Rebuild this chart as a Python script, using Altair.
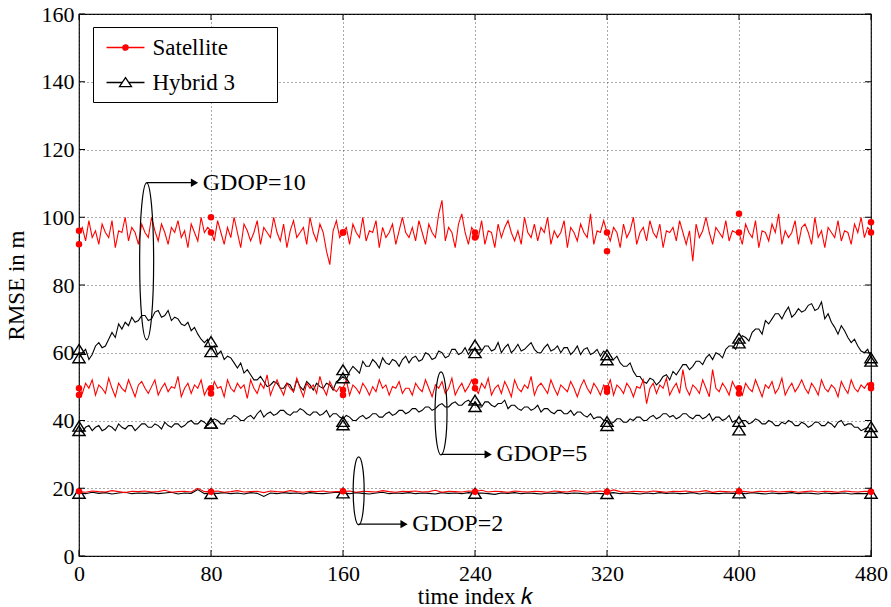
import altair as alt
import pandas as pd

FONT = "Liberation Serif"

MK = [0, 80, 160, 240, 320, 400, 480]
XT = [0, 80, 160, 240, 320, 400, 480]
YT = [0, 20, 40, 60, 80, 100, 120, 140, 160]

# noisy series, one value every 2 time steps (k = 0, 2, ..., 480)
SAT10 = [95.5, 97, 93, 99, 94, 96, 92, 98, 95.5, 94, 99, 91, 96, 95.5, 100, 93, 97, 95.5, 92, 98,
         95.5, 94, 100, 96, 93, 98, 95.5, 92, 97, 95.5, 99, 94, 96, 91, 98, 95.5, 93, 100, 95.5, 97,
         96, 93, 99, 95.5, 92, 97, 94, 100, 95.5, 91, 98, 96, 93, 95.5, 99, 92, 97, 95.5, 94, 100,
         95.5, 93, 98, 91, 96, 99, 94, 95.5, 97, 92, 100, 95.5, 93, 98, 95.5, 90, 86, 96, 99, 94,
         95.5, 97, 92, 98, 95.5, 94, 100, 93, 96, 95.5, 99, 91, 97, 94, 95.5, 98, 92, 96, 100, 95.5,
         94, 97, 93, 99, 95.5, 92, 98, 95.5, 94, 101, 105, 93, 97, 95.5, 91, 98, 101, 95.5, 92, 97,
         95.5, 94, 99, 92, 96, 95.5, 91, 98, 94, 97, 99, 95.5, 93, 96, 92, 100, 95.5, 94, 98, 93,
         97, 95.5, 100, 92, 96, 94, 95.5, 99, 91, 97, 95.5, 93, 98, 95.5, 94, 101, 92, 96, 95.5, 99,
         95.5, 93, 97, 95.5, 91, 98, 94, 96, 100, 92, 95.5, 97, 93, 99, 95.5, 94, 98, 91, 96, 95.5,
         97, 93, 99, 95.5, 92, 96, 87, 98, 94, 96, 100, 95.5, 92, 97, 95.5, 94, 99, 93, 96, 95.5,
         95.5, 92, 98, 95.5, 94, 99, 91, 96, 95.5, 93, 98, 95.5, 101, 92, 96, 94, 95.5, 99, 92, 97,
         98, 95.5, 92, 100, 94, 96, 91, 97, 95.5, 94, 99, 93, 96, 95.5, 92, 98, 95.5, 100, 94, 97,
         96]
SAT5 = [49.5, 48, 51, 49.5, 52, 47.5, 50.5, 49.5, 48, 52.5, 49.5, 47, 51, 49.5, 48.5, 52, 49.5, 47, 50.5, 51.5,
        49.5, 48, 50, 52, 47.5, 49.5, 51, 48.5, 50, 49.5, 53, 47, 49.5, 51, 48, 50.5, 49.5, 52, 47.5, 49.5,
        48, 51.5, 49.5, 50, 47, 52, 49.5, 48.5, 51, 49.5, 50.5, 46.5, 52, 49.5, 48, 51, 49.5, 53.5, 47.5, 50,
        52, 49.5, 47.5, 51, 49.5, 48.5, 52.5, 49.5, 47, 51, 49.5, 50.5, 48, 53, 49.5, 47.5, 51.5, 49.5, 48.5, 50,
        49.5, 52, 47.5, 50.5, 49.5, 48, 51, 49.5, 47.5, 50, 48.5, 52, 49.5, 50.5, 47.5, 50, 49.5, 51.5, 48, 49.5,
        49.5, 47.5, 51, 49.5, 48.5, 52, 49.5, 47, 50.5, 49.5, 51.5, 48, 49.5, 52.5, 47.5, 49.5, 51, 48.5, 50, 52,
        49.5, 48, 51, 49.5, 52.5, 47.5, 49.5, 50.5, 48, 51.5, 49.5, 47, 52, 49.5, 48.5, 50.5, 49.5, 53, 47.5, 50,
        51, 49.5, 48, 52, 49.5, 47.5, 50.5, 49.5, 48.5, 51.5, 49.5, 47, 50, 52, 49.5, 48, 51, 49.5, 47.5, 50.5,
        49.5, 52, 47.5, 50.5, 49.5, 48, 51, 49.5, 47, 50, 49.5, 52, 45, 49.5, 51, 48, 50.5, 49.5, 52.5, 47.5,
        49.5, 51, 48, 55, 49.5, 47.5, 50.5, 49.5, 48, 52, 49.5, 47, 55, 49.5, 48.5, 51, 49.5, 47.5, 51.5, 49.5,
        49.5, 47.5, 51, 49.5, 48.5, 52, 49.5, 47, 50.5, 49.5, 51.5, 48, 49.5, 52.5, 47.5, 49.5, 51, 48.5, 50, 52,
        49.5, 48, 51, 49.5, 47.5, 52, 49.5, 48.5, 50.5, 49.5, 47, 51.5, 49.5, 48, 52, 49.5, 48.5, 50.5, 49.5, 51,
        49.5]
HYB10 = [58.5, 60, 61, 58, 59.5, 62, 63, 61.5, 62, 64, 66, 64.5, 68.5, 67, 69, 68, 70.5, 69, 69.5, 71,
         71, 69.5, 70, 72, 72.5, 70.5, 71, 72.5, 69.5, 70.5, 70, 68.5, 68, 69, 66.5, 67.5, 65.5, 64, 63, 64,
         61, 62, 59.5, 60.5, 58, 59, 58.5, 57, 55.5, 57, 54, 55, 53.5, 52, 52, 53, 51.5, 50, 50.5, 51.5,
         51, 49.5, 49.5, 51, 50.5, 48.5, 52, 50, 49, 51.5, 50.5, 49, 51, 50, 49.5, 51, 50.5, 49, 51.5, 52,
         53, 52, 54.5, 56, 55, 54, 57.5, 56, 56, 58, 57, 55.5, 58.5, 57, 56.5, 58, 57.5, 56, 58, 59,
         57, 58.5, 59, 57.5, 58, 60, 59.5, 58, 58.5, 60.5, 60, 58.5, 59, 61, 61, 59.5, 60, 61.5, 59.5, 61,
         61, 59.5, 60.5, 62, 62, 60.5, 61, 63, 60, 61.5, 62.5, 60, 61, 62.5, 60.5, 61, 62, 63, 61, 60,
         60, 61.5, 62.5, 60.5, 61, 62, 60, 61.5, 61.5, 59.5, 60.5, 62, 59.5, 61, 61.5, 59.5, 60, 61, 59, 60.5,
         59.5, 58, 58, 59, 57, 56, 56, 57, 54.5, 53, 53, 51.5, 51, 52.5, 52, 50.5, 51.5, 53, 53.5, 52,
         54.5, 53.5, 55, 56.5, 56.5, 55, 56, 57.5, 57.5, 56.5, 58.5, 59.5, 58, 60, 59.5, 58.5, 61, 62, 62, 61,
         63.5, 65, 64.5, 63.5, 66, 67, 67, 65.5, 69.5, 68.5, 70, 71.5, 71.5, 70, 72, 73.5, 70.5, 71.5, 73, 72,
         72.5, 74, 74.5, 72.5, 73, 75, 70, 71.5, 69, 67.5, 65.5, 68, 66.5, 64.5, 63, 64, 62, 60.5, 60, 61,
         58.5]
HYB5 = [37.5, 36.5, 38, 38.5, 37, 38, 38.5, 37, 37.5, 38.5, 38, 37, 39, 38, 37.5, 38.5, 38.5, 37, 38, 39,
        39, 38, 38, 39, 38.5, 37.5, 39.5, 38.5, 38, 39, 39, 38, 38.5, 39.5, 40, 39, 39, 40, 39.5, 38.5,
        39.5, 40.5, 40, 39, 39, 40.5, 40.5, 41.5, 41, 40, 40, 41, 41.5, 40.5, 42, 43, 41, 42, 42.5, 41.5,
        42, 43, 43, 42, 41.5, 42.5, 42.5, 43.5, 43, 42, 41.5, 42.5, 42.5, 41.5, 42, 43, 41, 42, 42, 41,
        40.5, 41.5, 41, 40, 40, 41, 41.5, 40.5, 41, 42, 42, 41, 41, 42, 42.5, 41.5, 42, 43, 43, 42,
        42.5, 43.5, 43.5, 42.5, 43, 44, 44, 43, 43.5, 44.5, 45, 44, 44, 45, 45.5, 44.5, 44.5, 45.5, 46, 45,
        45, 44, 44, 45.5, 45.5, 44.5, 44, 45, 45, 46, 43.5, 44.5, 44.5, 43.5, 43, 44, 44, 43, 43.5, 44.5,
        42.5, 43.5, 43.5, 42.5, 42, 43, 43, 42, 42, 43, 41.5, 42.5, 42.5, 41.5, 41, 42, 40.5, 41, 41, 40,
        40, 39, 39.5, 40.5, 40.5, 39.5, 39.5, 40.5, 40, 41, 41, 40, 40, 41, 41.5, 40.5, 41, 42, 42, 41,
        41.5, 40.5, 41, 42, 42, 41, 40.5, 41.5, 41.5, 40.5, 41, 42, 40, 41, 41, 40, 40.5, 41.5, 39.5, 40,
        39, 40, 40, 39, 39.5, 40.5, 40, 39, 39, 40, 39.5, 38.5, 38.5, 39.5, 39, 40, 39.5, 38.5, 38.5, 39.5,
        39, 38, 38.5, 39.5, 39.5, 38.5, 38.5, 39.5, 39, 38, 39.5, 40, 38.5, 39, 39, 38, 38, 37, 37.5, 38,
        37.5]
# flat GDOP=2 series, one value every 4 time steps (k = 0, 4, ..., 480)
SAT2 = [19, 18.8, 19.2, 19, 18.9, 19.3, 19, 18.7, 19.1, 19,
        19.2, 18.9, 19, 19.4, 18.8, 19, 19.1, 18.9, 20, 19,
        19, 19.2, 18.8, 19, 19.3, 18.9, 19, 19.1, 18.7, 19.2,
        19, 18.9, 19.3, 19, 18.8, 19.1, 19, 19.2, 18.9, 19,
        19, 19.2, 18.8, 19.1, 19, 18.9, 19.3, 19, 18.8, 19.1,
        19, 19.2, 18.9, 19, 19.4, 18.8, 19.1, 19, 18.9, 19.2,
        19, 19.4, 18.9, 19.1, 19, 18.8, 19.2, 19, 18.9, 19.1,
        19, 18.8, 19.2, 19, 18.9, 19.3, 19.1, 18.8, 19, 19.2,
        18.9, 19.5, 19, 18.8, 19.1, 19, 18.9, 19.2, 19, 18.8,
        19.1, 19, 19.2, 18.9, 19, 19.3, 18.8, 19.1, 19, 18.9,
        19.2, 19, 18.8, 19.1, 19, 19.2, 18.9, 19, 19.1, 18.8,
        19, 19.2, 18.9, 19.1, 19, 18.8, 19.2, 19, 18.9, 19.1,
        19]
HYB2 = [18.6, 18.4, 18.8, 18.5, 18.7, 18.3, 18.6, 18.8, 18.4, 18.6,
        18.5, 18.7, 18.4, 18.6, 18.8, 18.3, 18.6, 18.5, 19.6, 18.4,
        18.6, 18.5, 18.7, 18.4, 18.6, 18.3, 18.7, 18.5, 17.6, 18.6,
        18.4, 18.7, 18.5, 18.6, 18.3, 18.7, 18.5, 18.4, 18.6, 18.8,
        18.6, 18.4, 18.7, 18.5, 18.3, 18.6, 18.8, 18.4, 18.6, 18.5,
        18.7, 18.4, 18.6, 18.5, 18.3, 18.7, 18.5, 18.6, 18.4, 18.7,
        18.5, 18.6, 18.4, 18.2, 18.6, 18.5, 18.7, 18.4, 18.6, 18.5,
        18.3, 18.6, 18.5, 18.7, 18.4, 18.6, 18.5, 18.3, 18.6, 18.4,
        18.5, 18.7, 18.4, 18.6, 18.5, 18.3, 18.6, 18.4, 18.7, 18.5,
        18.6, 18.4, 18.5, 18.7, 18.3, 18.6, 18.5, 18.4, 18.6, 18.5,
        18.6, 18.4, 18.7, 18.5, 18.3, 18.6, 18.4, 18.5, 18.7, 18.4,
        18.6, 18.5, 18.3, 18.6, 18.4, 18.5, 18.6, 18.3, 18.5, 18.4,
        18.5]

# marker values at k = 0, 80, ..., 480 (two runs each)
SAT10_MA = [96, 100, 95.5, 95.5, 95.5, 101, 98.5]
SAT10_MB = [92, 95.5, 95.5, 94, 90, 95.5, 95.5]
SAT5_MA = [49.5, 49.5, 49, 51.5, 49.5, 49.5, 50.5]
SAT5_MB = [47.5, 48, 47.5, 49.5, 48.5, 48, 49.5]
SAT2_M = [19.1, 19, 19.1, 19, 19, 19.1, 19]
HYB10_MA = [61, 63.3, 55, 62.3, 59.4, 64.3, 58.5]
HYB10_MB = [58.5, 60.3, 52.6, 60, 57.9, 62.9, 57.5]
HYB5_MA = [38.3, 39.2, 39.7, 46, 39.7, 39.7, 38.2]
HYB5_MB = [37, 39.2, 38.7, 44.1, 38.5, 37.2, 36.5]
HYB2_M = [18.5, 18.4, 18.6, 18.5, 18.4, 18.6, 18.5]

# annotations
ANN_TEXT = ["GDOP=10", "GDOP=5", "GDOP=2"]
ELL_K = [41, 219.4, 169.5]
ELL_V = [87.0, 42.1, 19.2]
ELL_H = [157, 83, 68]   # px
ELL_W = [14, 12, 11]    # px
ARR_V = [110.2, 30.0, 9.4]
ARR_K0 = [41, 219.4, 169.5]
ARR_K1 = [70, 248, 197]
TXT_K = [75, 253, 202]

SERIES = ["Satellite", "Hybrid 3"]
# legend entries (trailing blank glyphs widen the legend box as in the original)
LEG_LABELS = ["Satellite\u2800\u2800", "Hybrid 3\u2800\u2800"]
RED = "#ff0000"


def frame(series, gdop, step, vals, ks=None):
    if ks is None:
        ks = list(range(0, step * len(vals), step))
    return pd.DataFrame({"k": ks, "v": vals, "series": series, "gdop": gdop})


sat_lines = pd.concat([frame("Satellite", 10, 2, SAT10), frame("Satellite", 5, 2, SAT5),
                       frame("Satellite", 2, 4, SAT2)])
hyb_lines = pd.concat([frame("Hybrid 3", 10, 2, HYB10), frame("Hybrid 3", 5, 2, HYB5),
                       frame("Hybrid 3", 2, 4, HYB2)])
sat_marks = pd.concat([frame("Satellite", g, 80, v, MK) for g, v in
                       [(10, SAT10_MA), (10, SAT10_MB), (5, SAT5_MA), (5, SAT5_MB), (2, SAT2_M)]])
hyb_marks = pd.concat([frame("Hybrid 3", g, 80, v, MK) for g, v in
                       [(10, HYB10_MA), (10, HYB10_MB), (5, HYB5_MA), (5, HYB5_MB), (2, HYB2_M)]])


def ellipse_path(ratio):
    c = 0.5523
    a = ratio
    return (f"M0,-1C{a*c:.4f},-1 {a:.4f},{-c} {a:.4f},0"
            f"C{a:.4f},{c} {a*c:.4f},1 0,1"
            f"C{-a*c:.4f},1 {-a:.4f},{c} {-a:.4f},0"
            f"C{-a:.4f},{-c} {-a*c:.4f},-1 0,-1Z")


ell = pd.DataFrame({"k": ELL_K, "v": ELL_V,
                    "path": [ellipse_path(w / h) for w, h in zip(ELL_W, ELL_H)],
                    "sz": [h * h for h in ELL_H]})
arr = pd.DataFrame({"k0": ARR_K0, "k1": ARR_K1, "v": ARR_V, "tk": TXT_K, "txt": ANN_TEXT})

W, H = 792, 542
xs = alt.Scale(domain=[0, 480], nice=False, zero=False)
ys = alt.Scale(domain=[0, 160], nice=False, zero=False)

x_axis = alt.Axis(values=XT, title="time index 𝑘", labelPadding=7, titlePadding=1,
                  grid=True, ticks=False, domain=False, labelFlush=False)
y_axis = alt.Axis(values=YT, title="RMSE in m", labelPadding=5, titlePadding=13,
                  grid=True, ticks=False, domain=False)

base_x = alt.X("k:Q", scale=xs, axis=x_axis)
base_y = alt.Y("v:Q", scale=ys, axis=y_axis)

hyb_line_layer = alt.Chart(hyb_lines).mark_line(color="black", strokeWidth=1.1).encode(
    x=base_x, y=base_y, detail="gdop:N")
sat_line_layer = alt.Chart(sat_lines).mark_line(color=RED, strokeWidth=1.1).encode(
    x="k:Q", y="v:Q", detail="gdop:N")

TRI = "M0,-0.8L1,0.8L-1,0.8Z"
hyb_mark_layer = alt.Chart(hyb_marks).mark_point(shape=TRI, size=150, filled=False,
                                                 color="black", strokeWidth=1.4, opacity=1).encode(
    x="k:Q", y="v:Q")
sat_mark_layer = alt.Chart(sat_marks).mark_point(shape="circle", size=42, filled=True,
                                                 color=RED, opacity=1).encode(
    x="k:Q", y="v:Q")

ell_layer = alt.Chart(ell).mark_point(filled=False, color="black", strokeWidth=1.2, opacity=1).encode(
    x="k:Q", y="v:Q", shape=alt.Shape("path:N", scale=None),
    size=alt.Size("sz:Q", scale=None))
arr_rule = alt.Chart(arr).mark_rule(color="black", strokeWidth=1.3).encode(
    x="k0:Q", x2="k1:Q", y="v:Q")
arr_head = alt.Chart(arr).mark_point(shape="triangle-right", size=70, filled=True,
                                     color="black", opacity=1).encode(x="k1:Q", y="v:Q")
arr_text = alt.Chart(arr).mark_text(align="left", baseline="middle", font=FONT,
                                    fontSize=24, color="black").encode(
    x="tk:Q", y="v:Q", text="txt:N")

xt = pd.DataFrame({"k": XT})
yt = pd.DataFrame({"v": YT})
tick_b = alt.Chart(xt).mark_rule(color="black").encode(x="k:Q", y=alt.value(H), y2=alt.value(H - 6))
tick_t = alt.Chart(xt).mark_rule(color="black").encode(x="k:Q", y=alt.value(0), y2=alt.value(6))
tick_l = alt.Chart(yt).mark_rule(color="black").encode(y="v:Q", x=alt.value(0), x2=alt.value(6))
tick_r = alt.Chart(yt).mark_rule(color="black").encode(y="v:Q", x=alt.value(W), x2=alt.value(W - 6))

LEG_SAT = ("M-0.58,0L2.58,0M1.225,0C1.225,0.124 1.124,0.225 1,0.225C0.876,0.225 0.775,0.124 0.775,0"
           "C0.775,-0.124 0.876,-0.225 1,-0.225C1.124,-0.225 1.225,-0.124 1.225,0Z")
LEG_HYB = "M-0.58,0L0.73,0M1.27,0L2.58,0M1,-0.4L1.5,0.35L0.5,0.35Z"
leg_df = pd.DataFrame({"k": [10, 20], "v": [-50, -50], "series": LEG_LABELS})
leg = alt.Legend(title=None, orient="none", legendX=14, legendY=13,
                 strokeColor="black", fillColor="white", padding=7.5,
                 labelFont=FONT, labelFontSize=23, labelColor="black",
                 symbolSize=576, symbolStrokeWidth=1.3, labelOffset=26,
                 rowPadding=10, symbolOpacity=1, labelLimit=300)
leg_layer = alt.Chart(leg_df).mark_point(clip=True, opacity=1, strokeWidth=1.3).encode(
    x="k:Q", y="v:Q",
    stroke=alt.Stroke("series:N", scale=alt.Scale(domain=LEG_LABELS, range=[RED, "black"]), legend=leg),
    fill=alt.Fill("series:N", scale=alt.Scale(domain=LEG_LABELS, range=[RED, "white"]), legend=leg),
    shape=alt.Shape("series:N", scale=alt.Scale(domain=LEG_LABELS, range=[LEG_SAT, LEG_HYB]), legend=leg),
)

chart = alt.layer(
    hyb_line_layer, sat_line_layer, hyb_mark_layer, sat_mark_layer,
    ell_layer, arr_rule, arr_head, arr_text,
    tick_b, tick_t, tick_l, tick_r, leg_layer
).properties(
    width=W, height=H,
    autosize=alt.AutoSizeParams(type="none"),
    padding={"left": 79, "top": 14, "right": 20, "bottom": 51},
    background="white",
).configure_view(
    stroke="black", strokeWidth=1.2
).configure_axis(
    labelFont=FONT, labelFontSize=22, labelColor="black",
    titleFont=FONT, titleFontSize=23, titleColor="black", titleFontWeight="normal",
    gridColor="#444", gridDash=[1, 3], gridWidth=1, gridOpacity=0.9,
)

chart.save("out.html", embed_options={"renderer": "svg", "actions": False})
